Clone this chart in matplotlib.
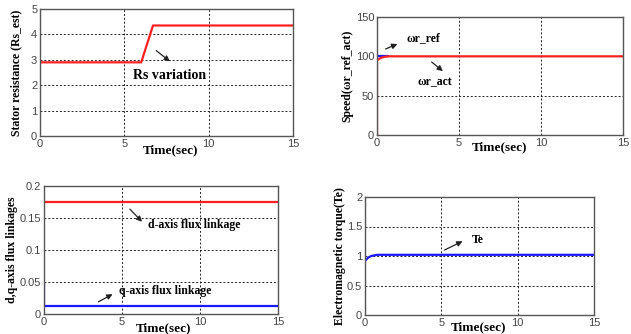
import numpy as np
import matplotlib
matplotlib.use('Agg')
import matplotlib.pyplot as plt

# ---- data ----
time_ticks = [0, 5, 10, 15]

# stator resistance estimate
rs_spike_t = [0, 0]
rs_spike_v = [0, 5]
rs_t = [0, 6.0, 6.7, 15]
rs_v = [2.9, 2.9, 4.35, 4.35]

# speed
wref_t = [0, 0.7]
wref_v = [100, 100]
wact_t = [0, 0, 0.1, 0.3, 0.5, 0.7, 15]
wact_v = [0, 95, 96.5, 98.5, 99.5, 100, 100]

# flux linkages
fd_t = [0, 15]
fd_v = [0.175, 0.175]
fq_t = [0, 0, 15]
fq_v = [0.047, 0.012, 0.012]

# torque
te_spike_t = [0, 0]
te_spike_v = [0, 2]
te_t = [0, 0.2, 0.4, 0.6, 0.8, 15]
te_v = [0.92, 0.97, 1.0, 1.01, 1.02, 1.02]

W, H = 631, 334
fig = plt.figure(figsize=(W/100, H/100), dpi=100)

SERIF = 'Liberation Serif'
SANS = 'Liberation Sans'
RED = '#ff2020'
BLUE = '#1a1aff'

def make_ax(l, t, r, b):
    return fig.add_axes([l/W, 1-b/H, (r-l)/W, (b-t)/H])

def style(ax, ymax, yticks, ylabels, ylab, ylab_x, xlab_x, xlab_y):
    ax.set_xlim(0, 15)
    ax.set_ylim(0, ymax)
    ax.set_xticks(time_ticks)
    ax.set_yticks(yticks)
    ax.set_yticklabels(ylabels)
    ax.tick_params(length=0, pad=2, labelsize=8, colors='#444444')
    for lab in ax.get_xticklabels() + ax.get_yticklabels():
        lab.set_family(SANS)
    ax.grid(True, color='#222222', linestyle=(0, (2, 2)), linewidth=0.7)
    ax.set_axisbelow(True)
    for s in ax.spines.values():
        s.set_color('#555555')
        s.set_linewidth(1.0)
    ax.set_ylabel(ylab, family=SERIF, fontweight='bold', fontsize=8.5)
    ax.yaxis.set_label_coords(ylab_x, 0.5)
    ax.set_xlabel('Time(sec)', family=SERIF, fontweight='bold', fontsize=9.5)
    ax.xaxis.set_label_coords(xlab_x, xlab_y)
    ax.xaxis.label.set_va('center')

def note(ax, txt, xy_from, xy_to, txt_xy, size=8.5):
    ax.annotate('', xy=xy_to, xytext=xy_from,
                arrowprops=dict(arrowstyle='-|>', color='#222222', lw=0.9,
                                mutation_scale=8))
    ax.text(txt_xy[0], txt_xy[1], txt, family=SERIF, fontweight='bold',
            fontsize=size, va='center', ha='left')

# panel 1: stator resistance
ax1 = make_ax(40, 9, 293, 136)
ax1.plot(rs_spike_t, rs_spike_v, color='#f08080', lw=1.2)
ax1.plot(rs_t, rs_v, color=RED, lw=1.6)
style(ax1, 5, [0, 1, 2, 3, 4, 5], ['0', '1', '2', '3', '4', '5'],
      'Stator resistance (Rs_est)', -0.07, 0.515, -0.11)
note(ax1, 'Rs variation', (6.76, 3.43), (7.83, 2.87), (5.5, 2.4), size=10)

# panel 2: speed
ax2 = make_ax(377, 17, 623, 135)
ax2.plot(wref_t, wref_v, color=BLUE, lw=1.6)
ax2.plot(wact_t, wact_v, color=RED, lw=1.6)
style(ax2, 150, [0, 50, 100, 150], ['0', '50', '100', '150'],
      'Speed(\u03c9r_ref_act)', -0.095, 0.5, -0.10)
note(ax2, '\u03c9r_ref', (0.37, 108), (1.4, 117), (1.8, 123))
note(ax2, '\u03c9r_act', (3.2, 95), (4.15, 79), (2.45, 67))

# panel 3: flux linkages
ax3 = make_ax(44, 186, 278, 314)
ax3.plot(fd_t, fd_v, color=RED, lw=1.6)
ax3.plot(fq_t, fq_v, color=BLUE, lw=1.6)
style(ax3, 0.2, [0, 0.05, 0.1, 0.15, 0.2], ['0', '0.05', '0.1', '0.15', '0.2'],
      'd,q-axis flux linkages', -0.112, 0.51, -0.115)
note(ax3, 'd-axis flux linkage', (5.38, 0.167), (6.41, 0.141), (6.67, 0.139))
note(ax3, 'q-axis flux linkage', (3.33, 0.017), (4.55, 0.033), (4.8, 0.036))

# panel 4: torque
ax4 = make_ax(365, 197, 594, 315)
ax4.plot(te_spike_t, te_spike_v, color='#8080ff', lw=1.5)
ax4.plot(te_t, te_v, color=BLUE, lw=1.6)
style(ax4, 2, [0, 0.5, 1, 1.5, 2], ['0', '0.5', '1', '1.5', '2'],
      'Electromagnetic torque(Te)', -0.085, 0.495, -0.10)
note(ax4, 'Te', (5.04, 1.08), (6.55, 1.27), (7.0, 1.27))

fig.savefig('out.png', dpi=100)
